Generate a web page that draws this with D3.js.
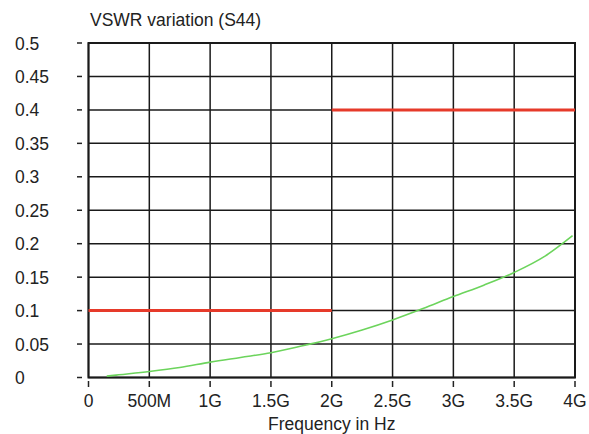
<!DOCTYPE html>
<html><head><meta charset="utf-8">
<script src="https://cdn.jsdelivr.net/npm/d3@7"></script>
<style>
html,body{margin:0;padding:0;background:#fff;}
svg text{font-family:"Liberation Sans",Arial,sans-serif;fill:#222;}
</style></head>
<body>
<svg id="chart" width="589" height="434"></svg>
<script>
// ---- data ----
const chartTitle = "VSWR variation (S44)";
const xAxisTitle = "Frequency in Hz";
const xTickValues = [0, 0.5e9, 1e9, 1.5e9, 2e9, 2.5e9, 3e9, 3.5e9, 4e9];
const xTickLabels = ["0", "500M", "1G", "1.5G", "2G", "2.5G", "3G", "3.5G", "4G"];
const yTickValues = [0, 0.05, 0.1, 0.15, 0.2, 0.25, 0.3, 0.35, 0.4, 0.45, 0.5];
const yTickLabels = ["0", "0.05", "0.1", "0.15", "0.2", "0.25", "0.3", "0.35", "0.4", "0.45", "0.5"];
// limit mask (red), two separate segments
const limitLow  = [[0, 0.1], [2e9, 0.1]];
const limitHigh = [[2e9, 0.4], [4e9, 0.4]];
// measured VSWR variation (green)
const measFreq = [0.15e9, 0.25e9, 0.5e9, 0.75e9, 1e9, 1.25e9, 1.5e9, 1.75e9, 2e9, 2.25e9, 2.5e9, 2.75e9, 3e9, 3.25e9, 3.5e9, 3.75e9, 3.98e9];
const measVal  = [0.002, 0.004, 0.009, 0.015, 0.023, 0.030, 0.037, 0.047, 0.058, 0.071, 0.086, 0.103, 0.121, 0.138, 0.157, 0.181, 0.212];

// ---- layout ----
const svg = d3.select("#chart");
const L = 88.5, R = 575, T = 43, B = 377.5;
const x = d3.scaleLinear().domain([0, 4e9]).range([L, R]);
const y = d3.scaleLinear().domain([0, 0.5]).range([B, T]);
const gridColor = "#1a1a1a";

// grid
svg.append("g").selectAll("line").data(xTickValues).join("line")
  .attr("x1", d => x(d)).attr("x2", d => x(d)).attr("y1", T).attr("y2", B)
  .attr("stroke", gridColor).attr("stroke-width", 1.5);
svg.append("g").selectAll("line").data(yTickValues).join("line")
  .attr("x1", L).attr("x2", R).attr("y1", d => y(d)).attr("y2", d => y(d))
  .attr("stroke", gridColor).attr("stroke-width", 1.5);
svg.append("rect").attr("x", L).attr("y", T).attr("width", R - L).attr("height", B - T)
  .attr("fill", "none").attr("stroke", gridColor).attr("stroke-width", 2);

// y ticks and labels
svg.append("g").selectAll("line").data(yTickValues).join("line")
  .attr("x1", 77).attr("x2", 82).attr("y1", d => y(d)).attr("y2", d => y(d))
  .attr("stroke", "#222").attr("stroke-width", 1.5);
svg.append("g").selectAll("text").data(yTickValues).join("text")
  .attr("x", 15).attr("y", d => y(d) + 6.5)
  .style("font-size", "17.5px")
  .text((d, i) => yTickLabels[i]);

// x ticks and labels
svg.append("g").selectAll("line").data(xTickValues).join("line")
  .attr("x1", d => x(d)).attr("x2", d => x(d)).attr("y1", 381).attr("y2", 387)
  .attr("stroke", "#222").attr("stroke-width", 1.5);
svg.append("g").selectAll("text").data(xTickValues).join("text")
  .attr("x", d => x(d)).attr("y", 406.5).attr("text-anchor", "middle")
  .style("font-size", "17.5px")
  .text((d, i) => xTickLabels[i]);

// titles
svg.append("text").attr("x", 90).attr("y", 25.5).style("font-size", "17.5px").text(chartTitle);
svg.append("text").attr("x", (L + R) / 2).attr("y", 430).attr("text-anchor", "middle")
  .style("font-size", "17.5px").text(xAxisTitle);

// data lines
const line = d3.line().x(d => x(d[0])).y(d => y(d[1]));
svg.append("path").datum(measFreq.map((f, i) => [f, measVal[i]]))
  .attr("d", line.curve(d3.curveMonotoneX)).attr("fill", "none")
  .attr("stroke", "#6cd45c").attr("stroke-width", 1.6);
const straight = d3.line().x(d => x(d[0])).y(d => y(d[1]));
[limitLow, limitHigh].forEach(seg => {
  svg.append("path").datum(seg).attr("d", straight).attr("fill", "none")
    .attr("stroke", "#e63a2a").attr("stroke-width", 3);
});
</script>
</body></html>
